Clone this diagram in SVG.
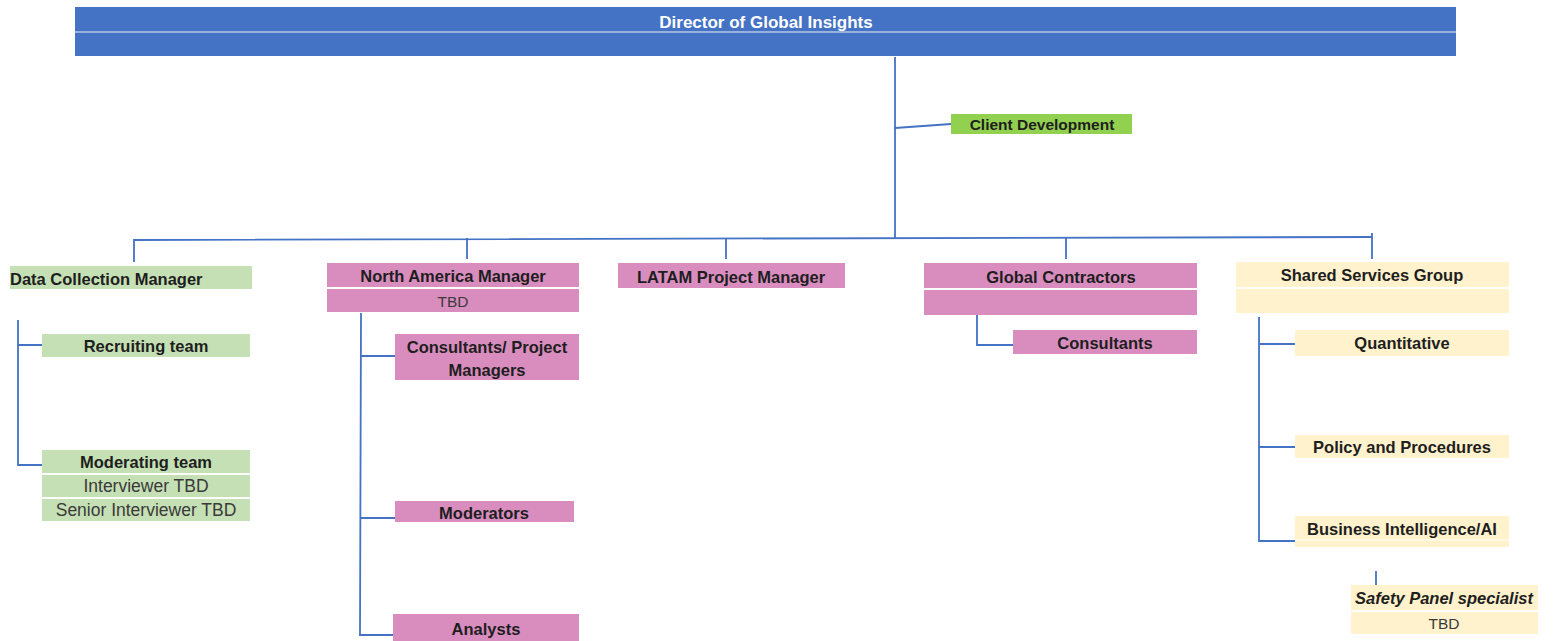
<svg xmlns="http://www.w3.org/2000/svg" width="1556" height="641" viewBox="0 0 1556 641">
  <style>
    .t { font-family: "Liberation Sans", Arial, sans-serif; font-size: 16.5px; font-weight: bold; fill: #1e1e1e; text-anchor: middle; }
    .n { font-weight: normal; font-size: 17.5px; fill: #3a3a3a; }
    .tbd { font-size: 15.5px; }
    .w { fill: #ffffff; font-size: 17px; }
    .s { font-size: 15.5px; }
    .l { text-anchor: start; }
    .blue { fill: #4472C4; }
    .green { fill: #92D050; }
    .lg { fill: #C5E0B4; }
    .pink { fill: #D98DBF; }
    .cream { fill: #FFF2CC; }
    .sep { stroke: #ffffff; stroke-width: 1.5; opacity: 0.6; }
    .c { fill: none; stroke: #4472C4; stroke-width: 1.8; }
  </style>

  <!-- connectors -->
  <g id="connectors">
    <path class="c" d="M895 57 V238"/>
    <path class="c" d="M895 128 L951 124"/>
    <path class="c" d="M134 262 V240 L1372 237"/>
    <path class="c" d="M467 238 V259 M726 238 V259 M1066 238 V259 M1372 233 V259"/>
    <path class="c" d="M18 320 V465 H42 M18 345 H42"/>
    <path class="c" d="M361 313 L360 635 H393 M361 356 H395 M361 518 H395"/>
    <path class="c" d="M977 315 V345 H1013"/>
    <path class="c" d="M1259 317 V541 H1295 M1259 344 H1295 M1259 447 H1295"/>
    <path class="c" d="M1376 571 V585"/>
  </g>

  <!-- top -->
  <g id="director">
    <rect class="blue" x="75" y="7" width="1381" height="49"/>
    <line class="sep" x1="75" y1="32" x2="1456" y2="32"/>
    <text class="t w" x="766" y="28">Director of Global Insights</text>
  </g>

  <g id="client-development">
    <rect class="green" x="951" y="114" width="181" height="20"/>
    <text class="t s" x="1042" y="129.5">Client Development</text>
  </g>

  <!-- data collection branch -->
  <g id="data-collection-manager">
    <rect class="lg" x="10" y="266" width="242" height="23"/>
    <text class="t l" x="10" y="284.5">Data Collection Manager</text>
  </g>
  <g id="recruiting-team">
    <rect class="lg" x="42" y="334" width="208" height="23"/>
    <text class="t" x="146" y="352">Recruiting team</text>
  </g>
  <g id="moderating-team">
    <rect class="lg" x="42" y="450" width="208" height="23"/>
    <rect class="lg" x="42" y="475" width="208" height="22"/>
    <rect class="lg" x="42" y="499" width="208" height="22"/>
    <text class="t" x="146" y="468">Moderating team</text>
    <text class="t n" x="146" y="492">Interviewer TBD</text>
    <text class="t n" x="146" y="516">Senior Interviewer TBD</text>
  </g>

  <!-- north america branch -->
  <g id="north-america-manager">
    <rect class="pink" x="327" y="263" width="252" height="24"/>
    <rect class="pink" x="327" y="289" width="252" height="23"/>
    <text class="t" x="453" y="282">North America Manager</text>
    <text class="t n tbd" x="453" y="307">TBD</text>
  </g>
  <g id="consultants-project-managers">
    <rect class="pink" x="395" y="334" width="184" height="46"/>
    <text class="t" x="487" y="353">Consultants/ Project</text>
    <text class="t" x="487" y="376">Managers</text>
  </g>
  <g id="moderators">
    <rect class="pink" x="395" y="501" width="179" height="21"/>
    <text class="t" x="484" y="519">Moderators</text>
  </g>
  <g id="analysts">
    <rect class="pink" x="393" y="614" width="186" height="27"/>
    <text class="t" x="486" y="635">Analysts</text>
  </g>

  <!-- latam -->
  <g id="latam-project-manager">
    <rect class="pink" x="618" y="263" width="227" height="25"/>
    <text class="t" x="731" y="283">LATAM Project Manager</text>
  </g>

  <!-- global contractors -->
  <g id="global-contractors">
    <rect class="pink" x="924" y="263" width="273" height="25"/>
    <rect class="pink" x="924" y="290" width="273" height="25"/>
    <text class="t" x="1061" y="283">Global Contractors</text>
  </g>
  <g id="consultants">
    <rect class="pink" x="1013" y="330" width="184" height="24"/>
    <text class="t" x="1105" y="349">Consultants</text>
  </g>

  <!-- shared services -->
  <g id="shared-services-group">
    <rect class="cream" x="1236" y="262" width="273" height="25"/>
    <rect class="cream" x="1236" y="289" width="273" height="24"/>
    <text class="t" x="1372" y="281">Shared Services Group</text>
  </g>
  <g id="quantitative">
    <rect class="cream" x="1295" y="330" width="214" height="26"/>
    <text class="t" x="1402" y="349">Quantitative</text>
  </g>
  <g id="policy-and-procedures">
    <rect class="cream" x="1295" y="435" width="214" height="23"/>
    <text class="t" x="1402" y="453">Policy and Procedures</text>
  </g>
  <g id="business-intelligence">
    <rect class="cream" x="1295" y="516" width="214" height="31"/>
    <line class="sep" x1="1295" y1="540" x2="1509" y2="540"/>
    <text class="t" x="1402" y="535">Business Intelligence/AI</text>
  </g>
  <g id="safety-panel-specialist">
    <rect class="cream" x="1351" y="585" width="187" height="25"/>
    <rect class="cream" x="1351" y="612" width="187" height="22"/>
    <text class="t" x="1444" y="604" font-style="italic">Safety Panel specialist</text>
    <text class="t n tbd" x="1444" y="629">TBD</text>
  </g>
</svg>
